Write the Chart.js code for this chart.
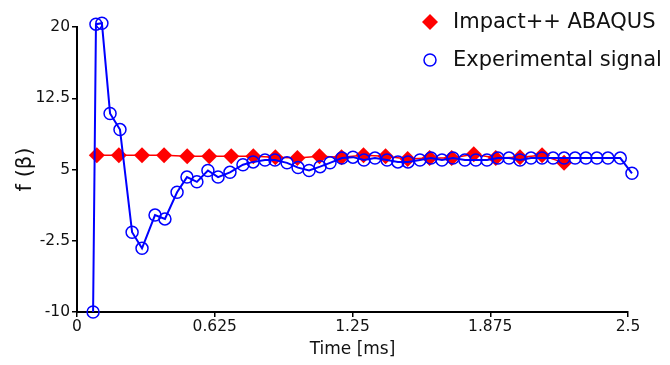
<!DOCTYPE html>
<html><head><meta charset="utf-8">
<script src="https://cdn.jsdelivr.net/npm/chart.js@4/dist/chart.umd.min.js"></script>
<style>html,body{margin:0;padding:0;background:#fff;}canvas{display:block;}</style>
</head><body>
<canvas id="c" width="670" height="365"></canvas>
<script>
const seriesNames = ['Impact++ ABAQUS', 'Experimental signal'];
const abaqusTime = [0.09,0.19,0.295,0.395,0.5,0.6,0.7,0.8,0.9,1.0,1.1,1.2,1.3,1.4,1.5,1.6,1.7,1.8,1.9,2.01,2.11,2.21];
const abaqusF = [6.5,6.5,6.5,6.5,6.4,6.4,6.4,6.4,6.3,6.2,6.4,6.3,6.5,6.4,6.1,6.2,6.2,6.6,6.2,6.3,6.5,5.7];
const expTime = [0.073,0.086,0.113,0.15,0.195,0.25,0.295,0.354,0.399,0.454,0.499,0.544,0.594,0.64,0.694,0.753,0.799,0.853,0.898,0.953,1.003,1.053,1.103,1.148,1.202,1.252,1.302,1.352,1.407,1.456,1.502,1.556,1.606,1.656,1.706,1.76,1.81,1.86,1.91,1.96,2.01,2.06,2.11,2.16,2.21,2.26,2.309,2.359,2.409,2.465,2.518];
const expF = [-10,20.3,20.4,10.9,9.2,-1.6,-3.3,0.2,-0.2,2.6,4.2,3.7,4.9,4.2,4.7,5.5,5.8,6.0,6.0,5.7,5.2,4.9,5.3,5.7,6.2,6.3,6.0,6.2,6.0,5.8,5.8,6.0,6.2,6.0,6.2,6.0,6.0,6.0,6.2,6.2,6.0,6.2,6.2,6.2,6.2,6.2,6.2,6.2,6.2,6.2,4.6];
const xTicks = [0, 0.625, 1.25, 1.875, 2.5];
const yTicks = [-10, -2.5, 5, 12.5, 20];
const xTitle = 'Time [ms]';
const yTitle = 'f (β)';

const FONT = '"DejaVu Sans", sans-serif';
const RED = '#ff0000', BLUE = '#0000ff', TXT = '#111111';

const overlayLegend = {
  id: 'overlayLegend',
  afterDraw(chart) {
    const ctx = chart.ctx;
    const lx = 430, tx = 453, rows = [22, 60];
    chart.data.datasets.forEach((ds, i) => {
      const y = rows[i];
      ctx.save();
      ctx.beginPath();
      if (ds.pointStyle === 'rectRot') {
        const r = ds.pointRadius;
        ctx.moveTo(lx - r, y); ctx.lineTo(lx, y - r); ctx.lineTo(lx + r, y); ctx.lineTo(lx, y + r); ctx.closePath();
        ctx.fillStyle = ds.pointBackgroundColor; ctx.fill();
      } else {
        ctx.arc(lx, y, ds.pointRadius, 0, Math.PI * 2);
        ctx.lineWidth = ds.pointBorderWidth; ctx.strokeStyle = ds.pointBorderColor; ctx.stroke();
      }
      ctx.fillStyle = TXT;
      ctx.font = '21px ' + FONT;
      ctx.textBaseline = 'middle';
      ctx.textAlign = 'left';
      ctx.fillText(ds.label, tx, y + 1);
      ctx.restore();
    });
  }
};

new Chart(document.getElementById('c'), {
  type: 'scatter',
  data: {
    datasets: [
      {
        label: seriesNames[0],
        data: abaqusTime.map((t, i) => ({x: t, y: abaqusF[i]})),
        showLine: true, tension: 0,
        borderColor: RED, borderWidth: 1.5,
        pointStyle: 'rectRot', pointRadius: 8,
        pointBackgroundColor: RED, pointBorderColor: RED, pointBorderWidth: 0,
        order: 1, clip: false
      },
      {
        label: seriesNames[1],
        data: expTime.map((t, i) => ({x: t, y: expF[i]})),
        showLine: true, tension: 0,
        borderColor: BLUE, borderWidth: 2,
        pointStyle: 'circle', pointRadius: 6,
        pointBackgroundColor: 'rgba(0,0,0,0)', pointBorderColor: BLUE, pointBorderWidth: 1.5,
        order: 0, clip: false
      }
    ]
  },
  options: {
    responsive: false,
    animation: false,
    events: [],
    layout: {padding: {left: 0, top: 27, right: 42, bottom: 0}},
    plugins: {legend: {display: false}, tooltip: {enabled: false}},
    scales: {
      x: {
        type: 'linear', min: 0, max: 2.5,
        afterBuildTicks: s => { s.ticks = xTicks.map(v => ({value: v})); },
        afterFit: s => { s.height = 53; },
        ticks: {font: {family: FONT, size: 15.5}, color: TXT, padding: 1, maxRotation: 0, autoSkip: false, callback: v => String(v)},
        grid: {drawOnChartArea: false, tickLength: 5, color: '#000', lineWidth: 1.5},
        border: {color: '#000', width: 2},
        title: {display: true, text: xTitle, font: {family: FONT, size: 17}, color: TXT, padding: {top: 0, bottom: 5}}
      },
      y: {
        type: 'linear', min: -10, max: 20,
        afterBuildTicks: s => { s.ticks = yTicks.map(v => ({value: v})); },
        afterFit: s => { s.width = 77; },
        ticks: {font: {family: FONT, size: 15.5}, color: TXT, padding: 2, autoSkip: false, callback: v => String(v)},
        grid: {drawOnChartArea: false, tickLength: 5, color: '#000', lineWidth: 1.5},
        border: {color: '#000', width: 2},
        title: {display: true, text: yTitle, font: {family: FONT, size: 21}, color: TXT, padding: {top: 13, bottom: 0}}
      }
    }
  },
  plugins: [overlayLegend]
});
</script>
</body></html>
